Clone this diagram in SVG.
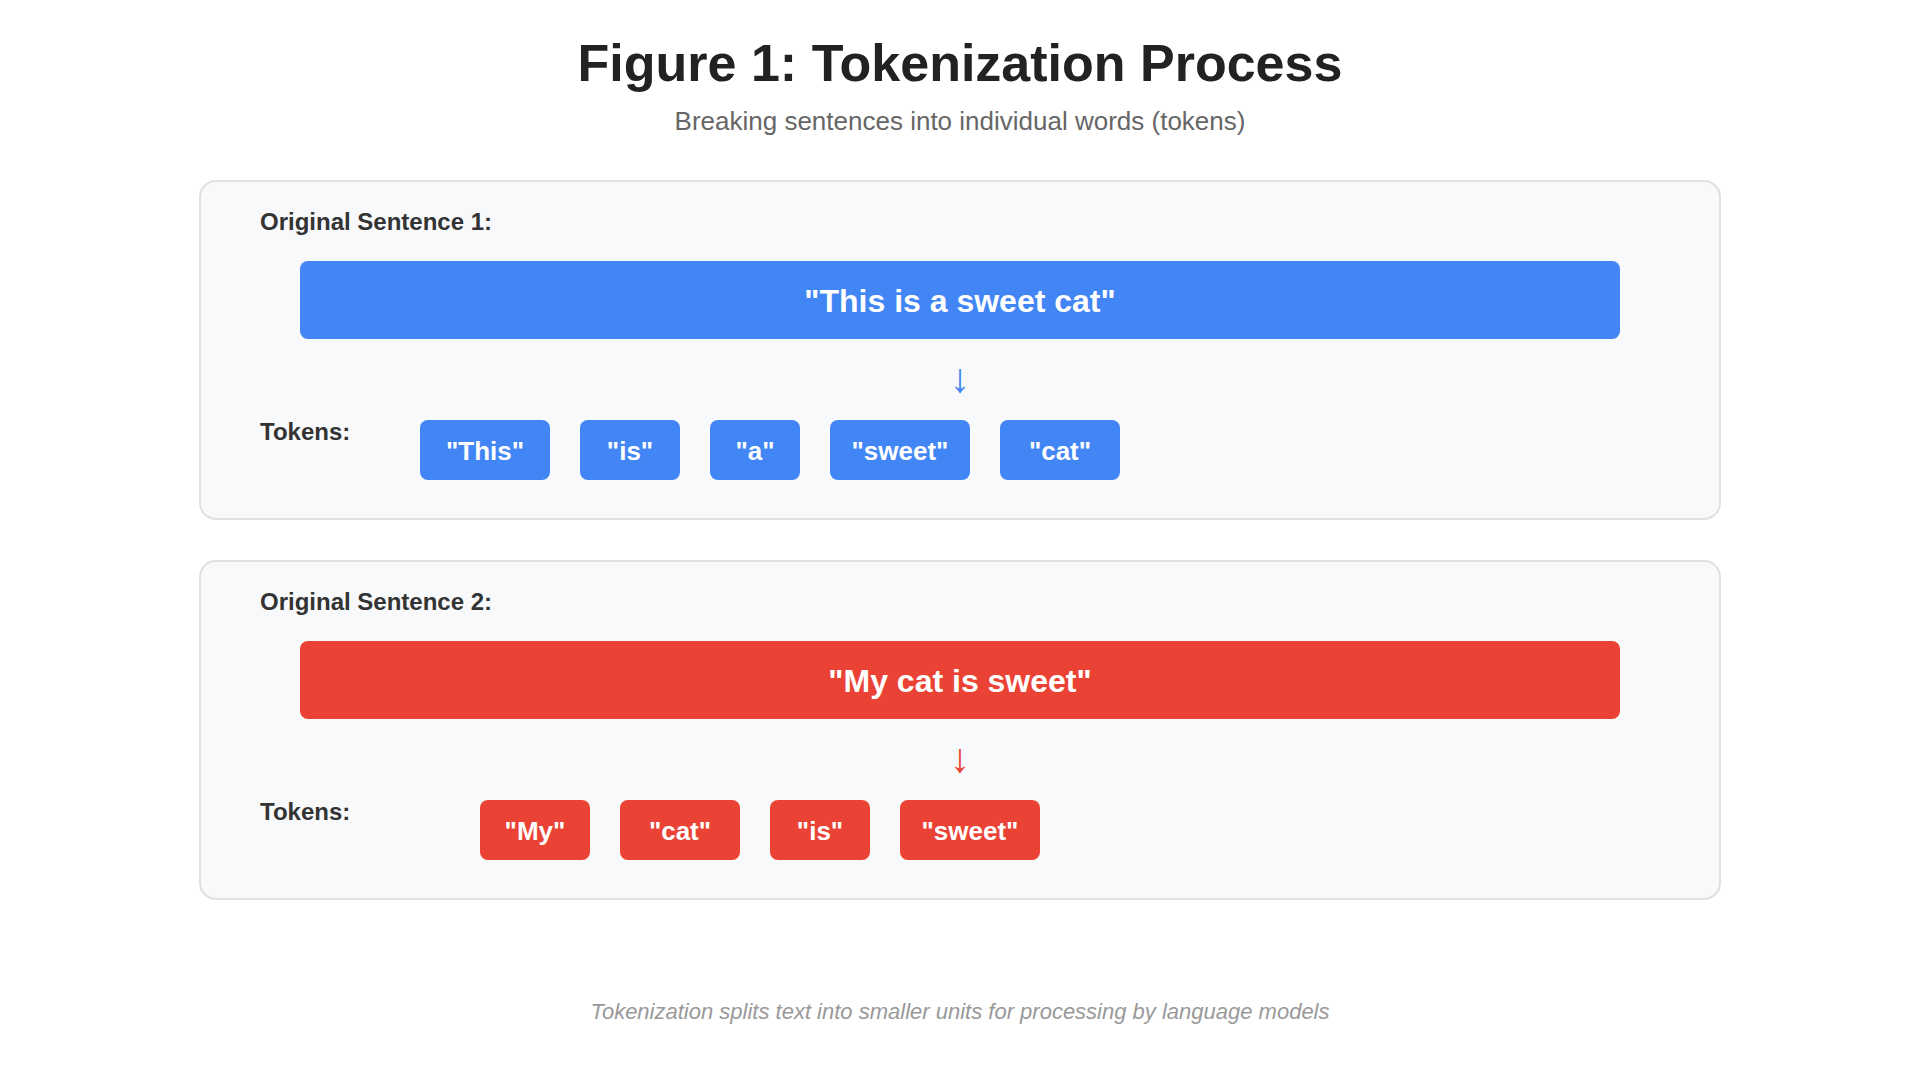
<svg xmlns="http://www.w3.org/2000/svg" width="1920" height="1080" viewBox="0 0 1920 1080">
<style>
.title{font-family:"Liberation Sans",Arial,sans-serif;font-weight:bold;font-size:52px;fill:#222;text-anchor:middle}
.sub{font-family:"Liberation Sans",Arial,sans-serif;font-size:26px;fill:#666;text-anchor:middle}
.panel{fill:#f8f9fa;stroke:#e0e0e0;stroke-width:2}
.label{font-family:"Liberation Sans",Arial,sans-serif;font-weight:bold;font-size:24px;fill:#333}
.bartext{font-family:"Liberation Sans",Arial,sans-serif;font-weight:bold;font-size:32px;fill:#fff;text-anchor:middle}
.tok{font-family:"Liberation Sans",Arial,sans-serif;font-weight:bold;font-size:26px;fill:#fff;text-anchor:middle}
.arrow{font-family:"Liberation Sans","DejaVu Sans",sans-serif;font-size:41px;text-anchor:middle}
.blue{fill:#4285f4}
.red{fill:#ea4335}
.foot{font-family:"Liberation Sans",Arial,sans-serif;font-style:italic;font-size:22px;fill:#999;text-anchor:middle}
</style>
<rect width="1920" height="1080" fill="#fff"/>
<text class="title" x="960" y="81">Figure 1: Tokenization Process</text>
<text class="sub" x="960" y="130">Breaking sentences into individual words (tokens)</text>

<g id="panel1">
<rect class="panel" x="200" y="181" width="1520" height="338" rx="16"/>
<text class="label" x="260" y="230">Original Sentence 1:</text>
</g>
<g id="sentence1">
<rect class="blue" x="300" y="261" width="1320" height="78" rx="8"/>
<text class="bartext" x="960" y="312">"This is a sweet cat"</text>
</g>
<g id="tokens1">
<text class="label" x="260" y="440">Tokens:</text>
<g id="t1-this"><rect class="blue" x="420" y="420" width="130" height="60" rx="8"/><text class="tok" x="485" y="460">"This"</text></g>
<g id="t1-is"><rect class="blue" x="580" y="420" width="100" height="60" rx="8"/><text class="tok" x="630" y="460">"is"</text></g>
<g id="t1-a"><rect class="blue" x="710" y="420" width="90" height="60" rx="8"/><text class="tok" x="755" y="460">"a"</text></g>
<g id="t1-sweet"><rect class="blue" x="830" y="420" width="140" height="60" rx="8"/><text class="tok" x="900" y="460">"sweet"</text></g>
<g id="t1-cat"><rect class="blue" x="1000" y="420" width="120" height="60" rx="8"/><text class="tok" x="1060" y="460">"cat"</text></g>
</g>

<g id="panel2">
<rect class="panel" x="200" y="561" width="1520" height="338" rx="16"/>
<text class="label" x="260" y="610">Original Sentence 2:</text>
</g>
<g id="sentence2">
<rect class="red" x="300" y="641" width="1320" height="78" rx="8"/>
<text class="bartext" x="960" y="692">"My cat is sweet"</text>
</g>
<g id="tokens2">
<text class="label" x="260" y="820">Tokens:</text>
<g id="t2-my"><rect class="red" x="480" y="800" width="110" height="60" rx="8"/><text class="tok" x="535" y="840">"My"</text></g>
<g id="t2-cat"><rect class="red" x="620" y="800" width="120" height="60" rx="8"/><text class="tok" x="680" y="840">"cat"</text></g>
<g id="t2-is"><rect class="red" x="770" y="800" width="100" height="60" rx="8"/><text class="tok" x="820" y="840">"is"</text></g>
<g id="t2-sweet"><rect class="red" x="900" y="800" width="140" height="60" rx="8"/><text class="tok" x="970" y="840">"sweet"</text></g>
</g>

<g id="connectors">
<text class="arrow blue" x="960" y="392">↓</text>
<text class="arrow red" x="960" y="772">↓</text>
</g>

<text class="foot" x="960" y="1019">Tokenization splits text into smaller units for processing by language models</text>
</svg>
